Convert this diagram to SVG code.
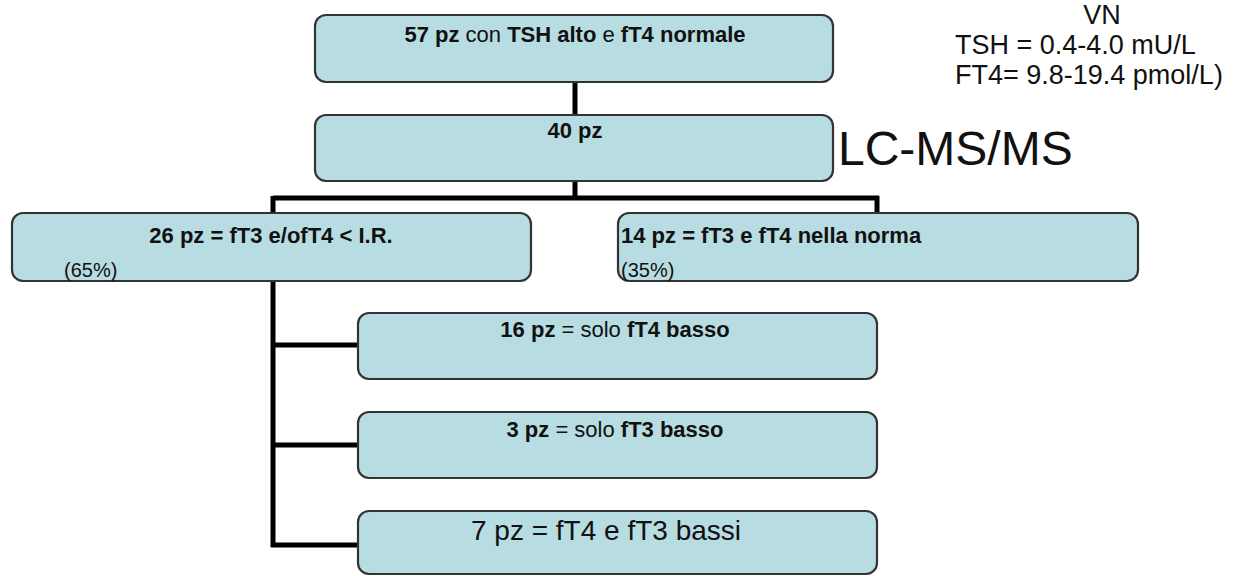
<svg xmlns="http://www.w3.org/2000/svg" width="1235" height="576" viewBox="0 0 1235 576">
<style>
.box{fill:#b7dce1;stroke:#333;stroke-width:2.2}
.t{font-family:"Liberation Sans",Arial,sans-serif;font-size:22px;fill:#111}
.b{font-weight:bold}
.s{font-family:"Liberation Sans",Arial,sans-serif;font-size:20px;fill:#111}
.vn{font-family:"Liberation Sans",Arial,sans-serif;font-size:27px;fill:#111}
.conn{fill:none;stroke:#000;stroke-width:5}
</style>
<rect width="1235" height="576" fill="#fff"/>
<g id="connectors">
<path class="conn" d="M575 82V115"/>
<path class="conn" d="M575 181V198M273 198H879M273 196V213M877 196V213"/>
<path class="conn" d="M273 281V547M271 345H358M271 445H358M271 545H358"/>
</g>
<g id="n1">
<rect class="box" x="315" y="15" width="518" height="67" rx="11"/>
<text class="t" x="575" y="42" text-anchor="middle"><tspan class="b">57 pz</tspan> con <tspan class="b">TSH alto</tspan> e <tspan class="b">fT4 normale</tspan></text>
</g>
<g id="n2">
<rect class="box" x="315" y="115" width="518" height="66" rx="11"/>
<text class="t b" x="575" y="138" text-anchor="middle">40 pz</text>
</g>
<g id="n3">
<rect class="box" x="12" y="213" width="519" height="68" rx="11"/>
<text class="t b" x="271" y="243" text-anchor="middle">26 pz = fT3 e/ofT4 &lt; I.R.</text>
<text class="s" x="64" y="277">(65%)</text>
</g>
<g id="n4">
<rect class="box" x="618" y="213" width="520" height="68" rx="11"/>
<text class="t b" x="621" y="243">14 pz = fT3 e fT4 nella norma</text>
<text class="s" x="621" y="277">(35%)</text>
</g>
<g id="n5">
<rect class="box" x="358" y="313" width="519" height="66" rx="11"/>
<text class="t" x="615" y="337" text-anchor="middle"><tspan class="b">16 pz</tspan> = solo <tspan class="b">fT4 basso</tspan></text>
</g>
<g id="n6">
<rect class="box" x="358" y="412" width="519" height="66" rx="11"/>
<text class="t" x="615" y="437" text-anchor="middle"><tspan class="b">3 pz</tspan> = solo <tspan class="b">fT3 basso</tspan></text>
</g>
<g id="n7">
<rect class="box" x="358" y="511" width="519" height="63" rx="11"/>
<text class="t" x="606" y="540" text-anchor="middle" style="font-size:28px">7 pz = fT4 e fT3 bassi</text>
</g>
<g id="notes">
<text class="vn" x="1102" y="24" text-anchor="middle">VN</text>
<text class="vn" x="955" y="54">TSH = 0.4-4.0 mU/L</text>
<text class="vn" x="955" y="84">FT4= 9.8-19.4 pmol/L)</text>
<text x="838" y="165" style="font-family:'Liberation Sans',Arial,sans-serif;font-size:48px;fill:#111">LC-MS/MS</text>
</g>
</svg>
